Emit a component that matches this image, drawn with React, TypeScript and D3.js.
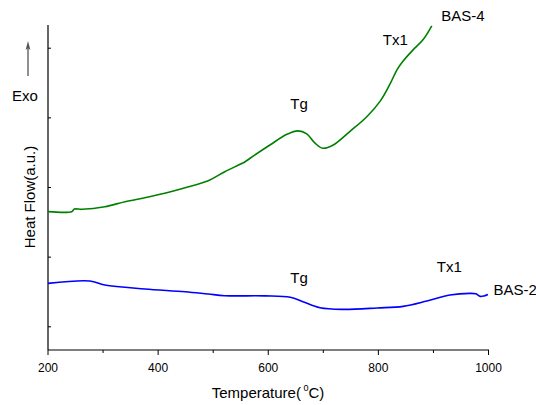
import React from "react";
import * as d3 from "d3";

// BAS-4 (green) — temperature (°C) and heat flow (a.u.)
const bas4Temp = [200, 243, 248, 262, 303, 340, 376, 412, 449, 491, 521, 558, 567, 603, 634, 654, 670, 685, 699, 718, 748, 779, 803, 821, 834, 845, 863, 881, 897];
const bas4Flow = [5.96, 5.96, 6.07, 6.06, 6.17, 6.39, 6.56, 6.75, 6.99, 7.29, 7.68, 8.11, 8.26, 8.83, 9.29, 9.44, 9.31, 8.91, 8.69, 8.83, 9.41, 10.05, 10.71, 11.45, 12.08, 12.45, 12.93, 13.36, 13.96];

// BAS-2 (blue)
const bas2Temp = [200, 276, 303, 376, 449, 491, 521, 594, 640, 663, 694, 736, 798, 845, 888, 930, 966, 977, 985, 992, 999];
const bas2Flow = [2.87, 2.97, 2.8, 2.63, 2.51, 2.41, 2.34, 2.33, 2.27, 2.08, 1.82, 1.75, 1.81, 1.88, 2.11, 2.37, 2.44, 2.42, 2.31, 2.33, 2.39];

const xMajorTicks = [200, 400, 600, 800, 1000];
const xMinorTicks = [300, 500, 700, 900];
const yTicks = [1, 4, 7, 10, 13];

const labels = [
  { text: "Tg", t: 640, v: 10.4 },
  { text: "Tx1", t: 808, v: 13.15 },
  { text: "BAS-4", t: 914, v: 14.17 },
  { text: "Tg", t: 640, v: 2.89 },
  { text: "Tx1", t: 906, v: 3.37 },
  { text: "BAS-2", t: 1009, v: 2.36 },
];

const font = "'Liberation Sans', Arial, sans-serif";

export default function App() {
  const x = d3.scaleLinear().domain([200, 1000]).range([48, 488.5]);
  const y = d3.scaleLinear().domain([0, 14]).range([350, 25]);

  const line = d3
    .line<[number, number]>()
    .x((d) => x(d[0]))
    .y((d) => y(d[1]))
    .curve(d3.curveCatmullRom.alpha(0.5));

  const green = line(bas4Temp.map((t, i) => [t, bas4Flow[i]]) as [number, number][]);
  const blue = line(bas2Temp.map((t, i) => [t, bas2Flow[i]]) as [number, number][]);

  return (
    <svg
      width={536}
      height={405}
      style={{ position: "absolute", left: 0, top: 0, background: "#fff" }}
      fontFamily={font}
    >
      {/* axes */}
      <line x1={48} x2={48} y1={25} y2={350} stroke="#000" strokeWidth={1.2} />
      <line x1={48} x2={489} y1={350} y2={350} stroke="#000" strokeWidth={1.2} />
      {yTicks.map((v) => (
        <line key={"y" + v} x1={48} x2={51} y1={y(v)} y2={y(v)} stroke="#000" />
      ))}
      {xMajorTicks.map((t) => (
        <g key={"x" + t}>
          <line x1={x(t)} x2={x(t)} y1={350} y2={355} stroke="#000" />
          <text x={x(t)} y={372} textAnchor="middle" fontSize={12}>{t}</text>
        </g>
      ))}
      {xMinorTicks.map((t) => (
        <line key={"m" + t} x1={x(t)} x2={x(t)} y1={350} y2={353} stroke="#000" />
      ))}

      {/* axis titles */}
      <text x={268} y={398} textAnchor="middle" fontSize={15}>
        Temperature(
        <tspan fontSize={9} dy={-7}> 0</tspan>
        <tspan dy={7}>C)</tspan>
      </text>
      <text transform="translate(35,197) rotate(-90)" textAnchor="middle" fontSize={15}>
        Heat Flow(a.u.)
      </text>
      <text x={12} y={101} fontSize={15}>Exo</text>
      <line x1={28} x2={28} y1={76} y2={46} stroke="#555" strokeWidth={1.3} />
      <path d="M28,41 L25.6,50 L28,48 L30.4,50 Z" fill="#555" />

      {/* curves */}
      <path d={green || ""} fill="none" stroke="#008000" strokeWidth={1.6} />
      <path d={blue || ""} fill="none" stroke="#0000ff" strokeWidth={1.6} />

      {labels.map((l, i) => (
        <text key={i} x={x(l.t)} y={y(l.v)} fontSize={15}>
          {l.text}
        </text>
      ))}
    </svg>
  );
}
